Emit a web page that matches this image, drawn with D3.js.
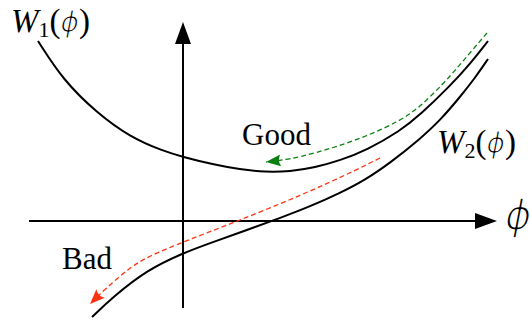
<!DOCTYPE html>
<html>
<head>
<meta charset="utf-8">
<script src="https://cdn.jsdelivr.net/npm/d3@7"></script>
<style>
  html, body { margin: 0; padding: 0; background: #fff; }
  svg { display: block; }
  text { font-family: "Liberation Serif", "DejaVu Serif", serif; fill: #000; }
  .phi { font-family: "DejaVu Sans", sans-serif; font-style: italic; stroke: #fff; stroke-linejoin: round; }
</style>
</head>
<body>
<svg id="chart" width="530" height="320"></svg>
<script>
// Potential curves W1(phi) and W2(phi), as [phi, W] pairs
const w1 = [
  [-2.90, 3.60], [-2.40, 2.82], [-1.72, 2.16], [-1.06, 1.68], [-0.40, 1.40],
  [0.00, 1.28], [0.60, 1.13], [1.14, 1.03], [1.64, 0.98], [2.14, 0.99],
  [2.64, 1.07], [3.14, 1.21], [3.68, 1.42], [4.34, 1.80], [4.74, 2.12],
  [5.34, 2.70], [5.74, 3.14], [6.10, 3.60]
];
const w2 = [
  [-1.82, -1.92], [-1.40, -1.52], [-0.72, -0.98], [0.00, -0.64], [0.60, -0.42],
  [1.28, -0.18], [1.94, 0.06], [2.54, 0.29], [3.14, 0.56], [3.64, 0.82],
  [4.14, 1.16], [4.74, 1.64], [5.14, 2.01], [5.54, 2.48], [5.84, 2.86],
  [6.10, 3.24]
];
// Rolling paths: "Good" follows W1 down to its minimum, "Bad" slides along W2
const goodPath = [
  [6.08, 3.76], [5.78, 3.41], [5.50, 3.08], [5.20, 2.74], [4.74, 2.28],
  [4.34, 2.00], [3.68, 1.70], [3.00, 1.46], [2.34, 1.28], [1.94, 1.21],
  [1.66, 1.18]
];
const badPath = [
  [3.94, 1.26], [3.44, 1.01], [2.88, 0.75], [2.34, 0.51], [1.74, 0.26],
  [1.14, 0.02], [0.60, -0.19], [0.00, -0.42], [-0.72, -0.72], [-1.06, -0.93],
  [-1.56, -1.36], [-1.86, -1.66]
];
// Axis extents
const phiAxis = [-3.08, 6.28];
const wAxis = [-1.74, 3.98];

const svg = d3.select("#chart");
const x = d3.scaleLinear().domain([-3.66, 6.94]).range([0, 530]);
const y = d3.scaleLinear().domain([4.42, -1.98]).range([0, 320]);

const line = d3.line()
  .x(d => x(d[0]))
  .y(d => y(d[1]))
  .curve(d3.curveBasis);

// Arrowhead markers for the dashed paths
const defs = svg.append("defs");
[["head-green", "#0a8010"], ["head-red", "#ff3311"]].forEach(([id, col]) => {
  defs.append("marker")
    .attr("id", id)
    .attr("markerUnits", "userSpaceOnUse")
    .attr("viewBox", "0 0 15 12")
    .attr("markerWidth", 15)
    .attr("markerHeight", 12)
    .attr("refX", 15)
    .attr("refY", 6)
    .attr("orient", "auto")
    .append("path")
    .attr("d", "M0,0 Q4,6 0,12 L15,6 Z")
    .attr("fill", col)
    .attr("stroke", "none");
});

// Axes through the origin
const ox = x(0), oy = y(0);
const hx0 = x(phiAxis[0]), hx1 = x(phiAxis[1]);
const vy0 = y(wAxis[0]), vy1 = y(wAxis[1]);
const headLen = 22, headHalf = 8;

svg.append("line")
  .attr("x1", hx0).attr("y1", oy).attr("x2", hx1 - headLen + 1).attr("y2", oy)
  .attr("stroke", "#000").attr("stroke-width", 2);
svg.append("path")
  .attr("d", `M${hx1},${oy} L${hx1 - headLen},${oy - headHalf} L${hx1 - headLen},${oy + headHalf} Z`)
  .attr("fill", "#000");

svg.append("line")
  .attr("x1", ox).attr("y1", vy0).attr("x2", ox).attr("y2", vy1 + headLen - 1)
  .attr("stroke", "#000").attr("stroke-width", 2);
svg.append("path")
  .attr("d", `M${ox},${vy1} L${ox - headHalf},${vy1 + headLen} L${ox + headHalf},${vy1 + headLen} Z`)
  .attr("fill", "#000");

// Potential curves
[w1, w2].forEach(data => {
  svg.append("path")
    .datum(data)
    .attr("d", line)
    .attr("fill", "none")
    .attr("stroke", "#000")
    .attr("stroke-width", 2);
});

// Dashed trajectories
svg.append("path")
  .datum(goodPath)
  .attr("d", line)
  .attr("fill", "none")
  .attr("stroke", "#0a8010")
  .attr("stroke-width", 1.3)
  .attr("stroke-dasharray", "5,3")
  .attr("marker-end", "url(#head-green)");

svg.append("path")
  .datum(badPath)
  .attr("d", line)
  .attr("fill", "none")
  .attr("stroke", "#ff3311")
  .attr("stroke-width", 1.3)
  .attr("stroke-dasharray", "5,3")
  .attr("marker-end", "url(#head-red)");

// Labels
function wLabel(sub, px, py) {
  const t = svg.append("text")
    .attr("x", x(px)).attr("y", y(py))
    .attr("font-size", 33);
  t.append("tspan").attr("font-style", "italic").text("W");
  t.append("tspan").attr("font-size", 22).attr("dy", 5).text(sub);
  t.append("tspan").attr("dy", -5).text("(");
  t.append("tspan").attr("class", "phi").attr("font-size", 28).attr("stroke-width", 1.1).text("ϕ");
  t.append("tspan").text(")");
}
wLabel("1", -3.44, 3.78);
wLabel("2", 5.08, 1.36);

svg.append("text")
  .attr("x", x(1.18)).attr("y", y(1.52))
  .attr("font-size", 31)
  .text("Good");

svg.append("text")
  .attr("x", x(-2.42)).attr("y", y(-0.96))
  .attr("font-size", 31)
  .text("Bad");

svg.append("text")
  .attr("class", "phi")
  .attr("x", x(6.44)).attr("y", y(-0.16))
  .attr("font-size", 40)
  .attr("stroke-width", 1.6)
  .text("ϕ");
</script>
</body>
</html>
